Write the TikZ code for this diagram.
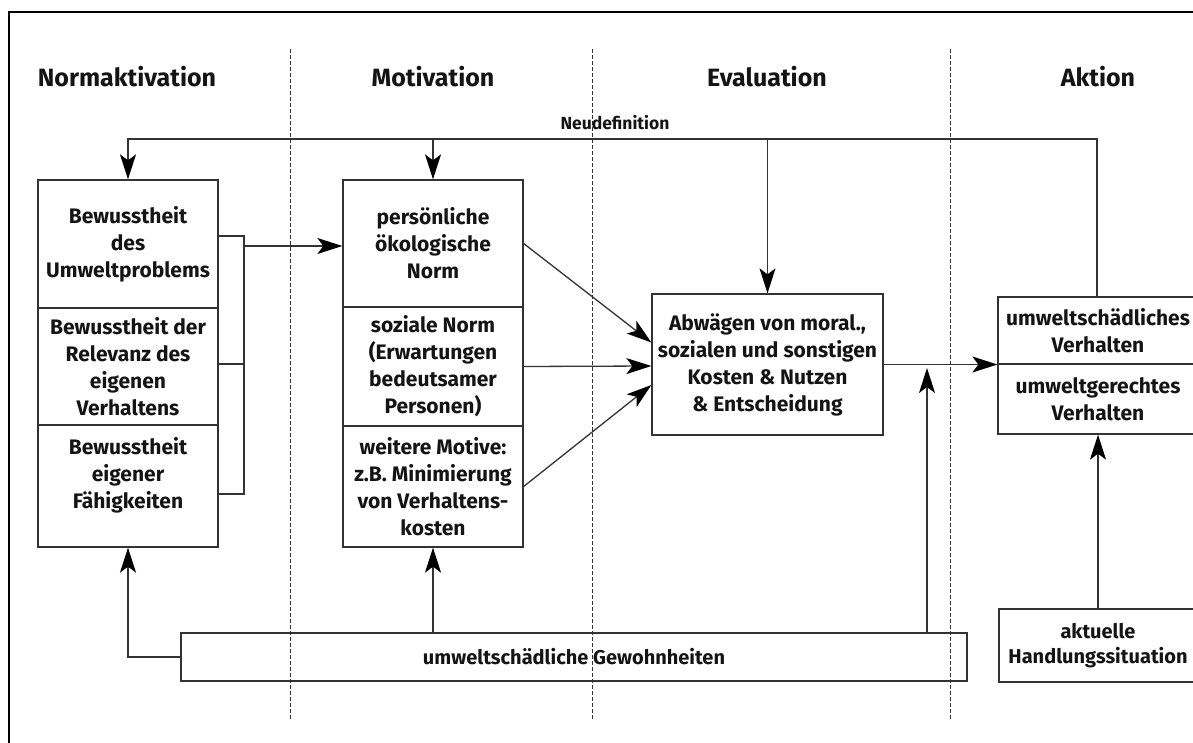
\documentclass[tikz,border=0pt]{standalone}
\usepackage{fontspec}
\setmainfont{Fira Sans}
\usetikzlibrary{arrows.meta,calc}
\begin{document}
\begin{tikzpicture}[x=1pt,y=-1pt,
  line/.style={draw=black!80, line width=1.3pt},
  arr/.style={line, -{Stealth[length=25pt,width=16pt,inset=6pt,color=black]}},
  box/.style={line, align=center, inner sep=0pt, text=black!92,
    font=\bfseries\fontsize{21}{27}\selectfont},
  title/.style={font=\bfseries\fontsize{25}{29}\selectfont, text=black!92, inner sep=0pt},
  phase/.style={draw=black!80, line width=1pt, dash pattern=on 4pt off 2pt}
]
\clip (0,0) rectangle (1193,743);
% frame
\draw[line width=2.5pt] (9,743) -- (9,12) -- (1193,12);

% phase separators
\foreach \x in {290,592,950} \draw[phase] (\x,49) -- (\x,720);

% titles
\node[title] (t1) at (127,77) {Normaktivation};
\node[title] (t2) at (433,77) {Motivation};
\node[title] (t3) at (767,77) {Evaluation};
\node[title] (t4) at (1098,77) {Aktion};

% left column
\node[box, minimum width=180pt, minimum height=128pt] (lb1) at (128,244) {Bewusstheit\\des\\Umweltproblems};
\node[box, minimum width=180pt, minimum height=117pt] (lb2) at (128,366.5) {Bewusstheit der\\Relevanz des\\eigenen\\Verhaltens};
\node[box, minimum width=180pt, minimum height=122pt] (lb3) at (128,486) {Bewusstheit\\eigener\\Fähigkeiten\\~};

% middle column
\node[box, minimum width=180pt, minimum height=127pt] (mb1) at (433,243.5) {persönliche\\ökologische\\Norm};
\node[box, minimum width=180pt, minimum height=119pt] (mb2) at (433,366.5) {soziale Norm\\(Erwartungen\\bedeutsamer\\Personen)};
\node[box, minimum width=180pt, minimum height=121pt] (mb3) at (433,486.5) {weitere Motive:\\z.B. Minimierung\\von Verhaltens-\\kosten};

% evaluation
\node[box, minimum width=231pt, minimum height=141pt] (abw) at (767.5,364.5) {Abwägen von moral.,\\sozialen und sonstigen\\Kosten \& Nutzen\\\& Entscheidung};

% action
\node[box, minimum width=200pt, minimum height=67pt] (rb1) at (1098,330.5) {umweltschädliches\\Verhalten};
\node[box, minimum width=200pt, minimum height=70pt] (rb2) at (1098,399) {umweltgerechtes\\Verhalten};
\node[box, minimum width=198pt, minimum height=73pt, font=\bfseries\fontsize{20}{25}\selectfont] (akt) at (1098,645.5) {aktuelle\\Handlungssituation};

% habits
\node[box, minimum width=786pt, minimum height=48pt, font=\bfseries\fontsize{20}{24}\selectfont] (gew) at (574,657) {umweltschädliche Gewohnheiten};

% feedback Neudefinition
\coordinate (fb) at (128,139);
\node[font=\bfseries\fontsize{17.5}{20}\selectfont, text=black!92, inner sep=0pt] (neu) at (615,123) {Neudefinition};
\draw[arr] (rb1.north -| 1097,0) |- (fb) -- (lb1.north);
\draw[arr] (mb1.north |- fb) -- (mb1.north);
\draw[arr] (abw.north |- fb) -- (abw.north);

% bracket
\coordinate (br1) at (244,236);
\coordinate (br2) at (244,364);
\coordinate (br3) at (244,494);
\coordinate (bra) at (244,246);
\draw[line] (lb1.east |- br1) -- (br1) -- (br3) -- (lb3.east |- br3);
\draw[line] (lb2.east |- br2) -- (br2);
\draw[arr] (bra) -- (bra -| mb1.west);

% motivation to evaluation
\draw[arr] (mb1.east) -- ($(abw.west)+(0,-22)$);
\draw[arr] (mb2.east) -- ($(abw.west)+(0,1.5)$);
\draw[arr] (mb3.east) -- ($(abw.west)+(0,20.5)$);

% evaluation to action
\draw[arr] (abw.east) -- (abw.east -| rb1.south west);

% habits influence
\coordinate (jn) at (927,368);
\draw[arr] (gew.north -| jn) -- (jn);
\draw[arr] (gew.north -| mb3.south) -- (mb3.south);
\draw[arr] (gew.west) -| (lb3.south);

% situation
\draw[arr] (akt.north) -- (rb2.south);
\end{tikzpicture}
\end{document}
